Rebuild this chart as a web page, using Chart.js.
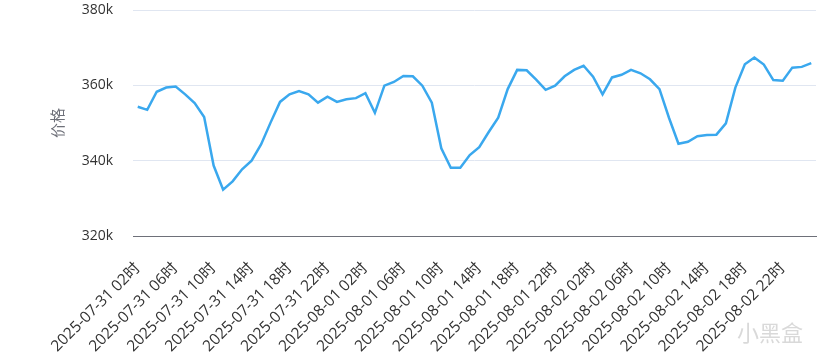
<!DOCTYPE html>
<html><head><meta charset="utf-8">
<script src="https://cdn.jsdelivr.net/npm/chart.js@4.4.1/dist/chart.umd.min.js"></script>
<style>html,body{margin:0;padding:0;background:#fff}#wrap{width:825px;height:358px;position:relative}</style>
</head><body><div id="wrap"><canvas id="c"></canvas></div>
<script>
const categories = [
  "2025-07-31 02时","2025-07-31 03时","2025-07-31 04时","2025-07-31 05时","2025-07-31 06时","2025-07-31 07时",
  "2025-07-31 08时","2025-07-31 09时","2025-07-31 10时","2025-07-31 11时","2025-07-31 12时","2025-07-31 13时",
  "2025-07-31 14时","2025-07-31 15时","2025-07-31 16时","2025-07-31 17时","2025-07-31 18时","2025-07-31 19时",
  "2025-07-31 20时","2025-07-31 21时","2025-07-31 22时","2025-07-31 23时",
  "2025-08-01 00时","2025-08-01 01时","2025-08-01 02时","2025-08-01 03时","2025-08-01 04时","2025-08-01 05时",
  "2025-08-01 06时","2025-08-01 07时","2025-08-01 08时","2025-08-01 09时","2025-08-01 10时","2025-08-01 11时",
  "2025-08-01 12时","2025-08-01 13时","2025-08-01 14时","2025-08-01 15时","2025-08-01 16时","2025-08-01 17时",
  "2025-08-01 18时","2025-08-01 19时","2025-08-01 20时","2025-08-01 21时","2025-08-01 22时","2025-08-01 23时",
  "2025-08-02 00时","2025-08-02 01时","2025-08-02 02时","2025-08-02 03时","2025-08-02 04时","2025-08-02 05时",
  "2025-08-02 06时","2025-08-02 07时","2025-08-02 08时","2025-08-02 09时","2025-08-02 10时","2025-08-02 11时",
  "2025-08-02 12时","2025-08-02 13时","2025-08-02 14时","2025-08-02 15时","2025-08-02 16时","2025-08-02 17时",
  "2025-08-02 18时","2025-08-02 19时","2025-08-02 20时","2025-08-02 21时","2025-08-02 22时","2025-08-02 23时",
  "2025-08-03 00时","2025-08-03 01时"
];
const prices = [
  354300,353500,358300,359400,359700,357600,355300,351600,338700,332300,334500,337700,
  340000,344300,350100,355600,357600,358500,357600,355400,357000,355600,356300,356600,
  357900,352700,359900,360900,362500,362400,359900,355400,343300,338100,338100,341500,
  343600,347600,351400,359000,364100,364000,361500,358800,359900,362400,364100,365200,
  362300,357600,362100,362800,364100,363200,361600,359000,351400,344500,345000,346500,
  346800,346900,349900,359400,365600,367400,365500,361400,361200,364700,364900,365900
];
const yTicks = [320000, 340000, 360000, 380000];
const yTitle = "价格";
const watermark = "小黑盒";
const labelEvery = 4;

const FONT = "'Open Sans','Noto Sans CJK SC',sans-serif";

const watermarkPlugin = {
  id: 'wm',
  afterDraw(chart) {
    const ctx = chart.ctx;
    ctx.save();
    ctx.font = "22px 'Noto Sans CJK SC',sans-serif";
    ctx.fillStyle = 'rgba(185,185,185,0.55)';
    ctx.textBaseline = 'middle';
    ctx.textAlign = 'left';
    ctx.fillText(watermark, 737, 333);
    ctx.restore();
  }
};

new Chart(document.getElementById('c'), {
  type: 'line',
  data: {
    labels: categories,
    datasets: [{
      data: prices,
      borderColor: '#3AA8EE',
      borderWidth: 2.5,
      pointRadius: 0,
      tension: 0,
      fill: false
    }]
  },
  options: {
    responsive: true,
    maintainAspectRatio: false,
    animation: false,
    layout: { padding: { left: 0, right: 9, top: 10, bottom: 0 } },
    plugins: { legend: { display: false }, tooltip: { enabled: false } },
    scales: {
      x: {
        offset: true,
        grid: { display: false },
        border: { display: true, color: '#6E7079', width: 1 },
        afterFit: s => { s.height = 122; s.paddingLeft = 0; s.paddingRight = 0; },
        ticks: {
          autoSkip: false, minRotation: 45, maxRotation: 45, padding: 15, labelOffset: 0,
          color: '#333', font: { size: 15.5, family: FONT },
          callback: (v, i) => (i % labelEvery === 0 ? categories[i] : '')
        }
      },
      y: {
        min: yTicks[0], max: yTicks[yTicks.length - 1],
        afterBuildTicks: s => { s.ticks = yTicks.map(v => ({ value: v })); },
        afterFit: s => { s.width = 133; s.paddingTop = 0; s.paddingBottom = 0; },
        grid: { color: '#E0E6F1', drawTicks: false },
        border: { display: false },
        ticks: { padding: 20, color: '#333', font: { size: 14, family: FONT }, callback: v => (v / 1000) + 'k' },
        title: { display: true, text: yTitle, color: '#6E7079', font: { size: 15, family: FONT }, padding: { top: 50, bottom: 14 } }
      }
    }
  },
  plugins: [watermarkPlugin]
});
</script></body></html>
